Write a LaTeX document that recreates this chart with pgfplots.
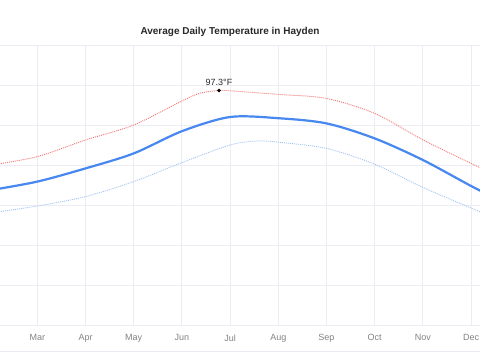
\documentclass[border=0pt]{standalone}
\usepackage{pgfplots}
\pgfplotsset{compat=1.18}
\usepackage{fontspec}
\setmainfont{Liberation Sans}
\definecolor{gridc}{RGB}{236,237,244}
\definecolor{hic}{RGB}{240,120,120}
\definecolor{meanc}{RGB}{70,135,240}
\definecolor{loc}{RGB}{165,195,240}
\definecolor{tickc}{RGB}{130,130,130}
\definecolor{titc}{RGB}{40,40,40}
\begin{document}
\begin{tikzpicture}
\begin{axis}[
  name=ax,
  scale only axis, width=480pt, height=280pt,
  xmin=2.226, xmax=12.185, ymin=-20, ymax=120,
  axis line style={draw=none},
  major tick length=0pt,
  xtick={2,3,4,5,6,7,8,9,10,11,12},
  xticklabels={Feb,Mar,Apr,May,Jun,Jul,Aug,Sep,Oct,Nov,Dec},
  ytick={-20,0,20,40,60,80,100,120},
  yticklabels={},
  grid=major,
  grid style={color=gridc, line width=0.9pt},
  x tick label style={font=\fontsize{9}{10}\selectfont, text=tickc},
  xtick pos=bottom,
  xticklabel shift=6pt,
]
\coordinate (bl) at (rel axis cs:0,0);
\coordinate (tr) at (rel axis cs:1,1);
\addplot[hic, line width=0.9pt, dash pattern=on 1pt off 1pt, smooth] coordinates {
(2,59.8)(3,64.2)(4,72.5)(5,80)(6,92)(6.375,95.9)(6.77,97.3)(7,97.1)(8,95.3)(9,93.3)(10,85.8)(11,72.6)(12,60.8)(12.5,55)};
\addplot[loc, line width=0.9pt, dash pattern=on 1pt off 1pt, smooth] coordinates {
(2,35.9)(3,39.5)(4,44.2)(5,51.7)(6,61.2)(7,70)(7.55,72)(8,71.4)(9,68.3)(10,60.4)(11,48.8)(12,38.5)(12.5,33.5)};
\addplot[meanc, line width=2.2pt, smooth] coordinates {
(2,47.3)(3,51.7)(4,58.3)(5,65.8)(6,76.9)(7,84)(8,83.4)(9,80.8)(10,73.3)(11,62.5)(12,49.5)(12.5,43.5)};
\addplot[only marks, mark=*, mark size=1.6pt, black] coordinates {(6.77,97.3)}
  node[above, yshift=1pt, font=\fontsize{9}{10}\selectfont, text=titc] {97.3°F};
\end{axis}
\pgfresetboundingbox
\path[use as bounding box] ([yshift=-35pt]bl) rectangle ([yshift=45pt]tr);
\draw[gridc, line width=0.9pt] ([yshift=-26.7pt]bl) -- ([yshift=-26.7pt]bl -| tr);
\node[font=\fontsize{10}{12}\selectfont\bfseries, text=titc] at ([xshift=230pt, yshift=13pt]bl |- tr) {Average Daily Temperature in Hayden};
\end{tikzpicture}
\end{document}
